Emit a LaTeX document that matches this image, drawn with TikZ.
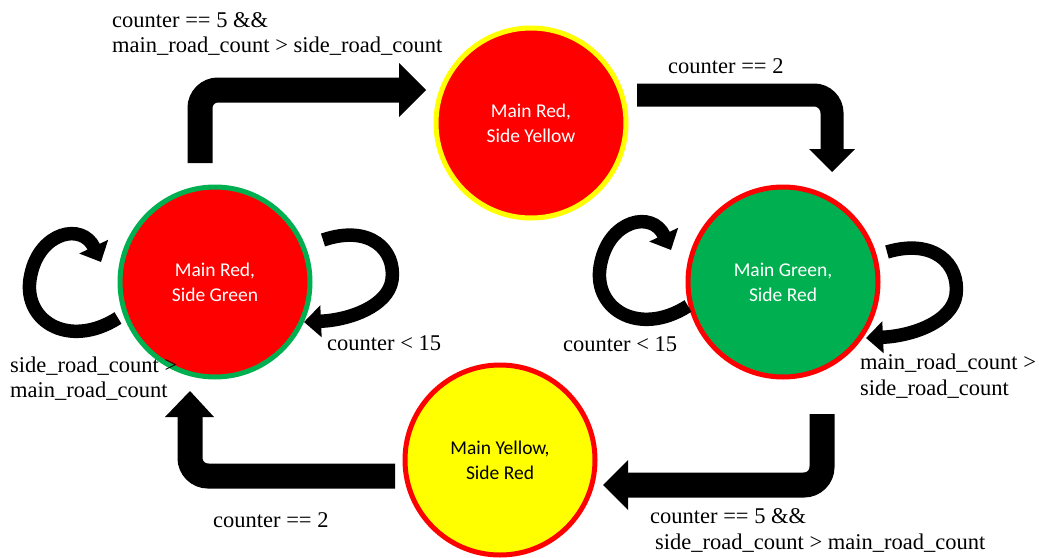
\documentclass[tikz,border=0pt]{standalone}
\usepackage{fontspec}
\setmainfont{Liberation Serif}
\newfontfamily\calib{Carlito}
\usetikzlibrary{arrows.meta}
\definecolor{sred}{HTML}{FF0000}
\definecolor{sgreen}{HTML}{00B050}
\definecolor{syellow}{HTML}{FFFF00}
\begin{document}
\begin{tikzpicture}[x=1pt,y=-1pt,
  state/.style={circle, minimum size=190pt, line width=5pt, inner sep=0pt, align=center,
    font=\calib\fontsize{19.5}{25}\selectfont},
  block/.style={line width=25pt, rounded corners=18pt, line cap=butt},
  head/.style={fill=black},
  loopar/.style={line width=13.5pt, -{Triangle[length=17pt,width=31pt]}},
  lbl/.style={anchor=base west, inner sep=0pt, font=\fontsize{22.5}{25}\selectfont}]
\useasboundingbox (0,0) rectangle (1039,557);

% states
\node[state, fill=sred, draw=syellow, text=white] (T) at (531,123) {Main Red,\\Side Yellow};
\node[state, fill=sred, draw=sgreen, text=white] (L) at (215,282) {Main Red,\\Side Green};
\node[state, fill=sgreen, draw=sred, text=white] (R) at (783,282) {Main Green,\\Side Red};
\node[state, fill=syellow, draw=sred, text=black] (B) at (500,460) {Main Yellow,\\Side Red};

% block arrow L -> T
\coordinate (a1s) at (200,163);
\coordinate (a1e) at (400,90);
\draw[block] (a1s) |- (a1e);
\fill[head] (399,63) -- (426,90) -- (399,117) -- cycle;

% block arrow T -> R
\coordinate (a2s) at (637,95);
\coordinate (a2e) at (832,150);
\draw[block, line width=23pt] (a2s) -| (a2e);
\fill[head] (809,149) -- (855,149) -- (832,172) -- cycle;

% block arrow R -> B
\coordinate (a3s) at (822,414);
\coordinate (a3e) at (627,485);
\draw[block] (a3s) |- (a3e);
\fill[head] (628,460) -- (628,510) -- (603,485) -- cycle;

% block arrow B -> L
\coordinate (a4s) at (395,476);
\coordinate (a4e) at (190,416);
\draw[block] (a4s) -| (a4e);
\fill[head] (165,417) -- (214,417) -- (190,391) -- cycle;

% self loops
\coordinate (l1s) at (118,318);
\coordinate (l1e) at (101,262);
\draw[loopar] (l1s) .. controls (68,350) and (20,320) .. (31,274) .. controls (40,232) and (82,222) .. (l1e);

\coordinate (l2s) at (323,240);
\coordinate (l2e) at (304,322);
\draw[loopar] (l2s) .. controls (370,224) and (396,250) .. (392,280) .. controls (388,306) and (350,320) .. (l2e);

\coordinate (l3s) at (688,306);
\coordinate (l3e) at (671,250);
\draw[loopar] (l3s) .. controls (638,338) and (590,308) .. (601,262) .. controls (610,220) and (652,210) .. (l3e);

\coordinate (l4s) at (887,252);
\coordinate (l4e) at (866,338);
\draw[loopar] (l4s) .. controls (934,238) and (960,264) .. (956,295) .. controls (952,322) and (912,336) .. (l4e);

% labels
\node[lbl] (t1a) at (112,27) {counter == 5 \&\&};
\node[lbl] (t1b) at (112,52) {main\_road\_count > side\_road\_count};
\node[lbl] (t2) at (668,73) {counter == 2};
\node[lbl] (t3) at (327,350) {counter < 15};
\node[lbl] (t4) at (563,351) {counter < 15};
\node[lbl] (t5a) at (10,372) {side\_road\_count >};
\node[lbl] (t5b) at (10,397) {main\_road\_count};
\node[lbl] (t6a) at (860,369) {main\_road\_count >};
\node[lbl] (t6b) at (860,395) {side\_road\_count};
\node[lbl] (t7) at (213,527) {counter == 2};
\node[lbl] (t8a) at (650,523) {counter == 5 \&\&};
\node[lbl] (t8b) at (655,549) {side\_road\_count > main\_road\_count};
\end{tikzpicture}
\end{document}
